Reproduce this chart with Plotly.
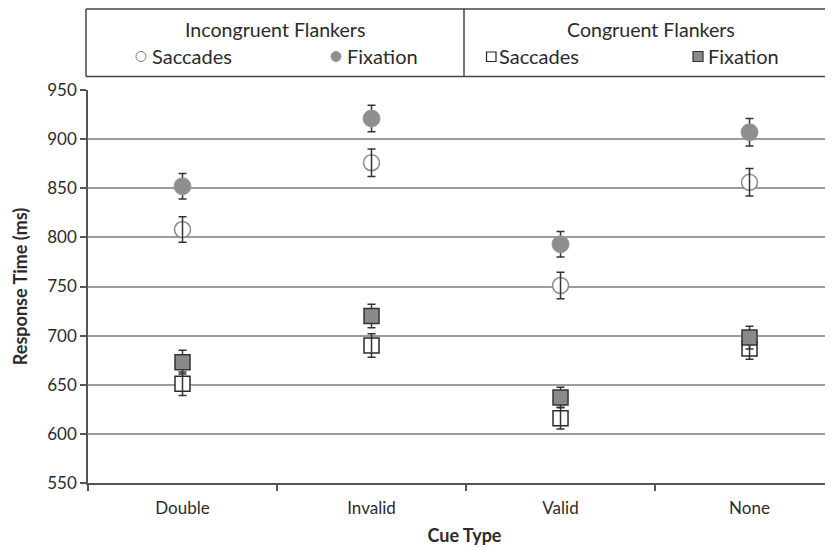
import plotly.graph_objects as go

# ---- data ----
cues = ["Double", "Invalid", "Valid", "None"]
inc_sac = [808, 876, 751, 856]
inc_sac_err = [13, 14, 13.5, 14]
inc_fix = [852, 921, 793, 907]
inc_fix_err = [13, 13.5, 13, 14]
con_sac = [651, 690, 616, 687]
con_sac_err = [12, 12, 11, 11]
con_fix = [673, 720, 637, 698]
con_fix_err = [12, 12, 10.5, 11.5]
y_ticks = [550, 600, 650, 700, 750, 800, 850, 900, 950]

FONT = "Lato"
TXT = "#2b2b2b"
ERR = "#333333"
W, H = 833, 547
OFF = 8  # page body margin
L, R, T, B = 80, 0, 82, 72

def px(x):
    return (x - OFF - L) / (W - L - R)

def py(y):
    return (H - B - (y - OFF)) / (H - T - B)

def err(e):
    return dict(type="data", array=e, visible=True, color=ERR, thickness=1.5, width=4)

fig = go.Figure()

# incongruent saccades (open circles): marker then error bars on top
fig.add_trace(go.Scatter(x=cues, y=inc_sac, mode="markers", showlegend=False,
                         marker=dict(symbol="circle", size=16, color="white",
                                     line=dict(color="#8a8a8a", width=1.5))))
fig.add_trace(go.Scatter(x=cues, y=inc_sac, mode="markers", showlegend=False,
                         marker=dict(size=1, opacity=0), error_y=err(inc_sac_err)))
# incongruent fixation (filled circles)
fig.add_trace(go.Scatter(x=cues, y=inc_fix, mode="markers", showlegend=False,
                         marker=dict(symbol="circle", size=17, color="#8e8e8e",
                                     line=dict(color="#9a9a9a", width=1)),
                         error_y=err(inc_fix_err)))
# congruent saccades (open squares)
fig.add_trace(go.Scatter(x=cues, y=con_sac, mode="markers", showlegend=False,
                         marker=dict(symbol="square", size=15, color="white",
                                     line=dict(color="#2a2a2a", width=1.5))))
fig.add_trace(go.Scatter(x=cues, y=con_sac, mode="markers", showlegend=False,
                         marker=dict(size=1, opacity=0), error_y=err(con_sac_err)))
# congruent fixation (filled squares)
fig.add_trace(go.Scatter(x=cues, y=con_fix, mode="markers", showlegend=False,
                         marker=dict(symbol="square", size=15, color="#8a8a8a",
                                     line=dict(color="#333333", width=1.5)),
                         error_y=err(con_fix_err)))

# ---- custom legend box ----
BOX = dict(color="#444", width=1.5)
shapes = [
    dict(type="line", xref="paper", yref="paper", x0=px(86), x1=px(850), y0=py(9), y1=py(9), line=BOX),
    dict(type="line", xref="paper", yref="paper", x0=px(86), x1=px(850), y0=py(76.5), y1=py(76.5), line=BOX),
    dict(type="line", xref="paper", yref="paper", x0=px(86), x1=px(86), y0=py(9), y1=py(76.5), line=BOX),
    dict(type="line", xref="paper", yref="paper", x0=px(464), x1=px(464), y0=py(9), y1=py(76.5), line=BOX),
    # legend glyphs
    dict(type="circle", xref="paper", yref="paper", x0=px(136), x1=px(146), y0=py(51.5), y1=py(61.5),
         fillcolor="white", line=dict(color="#777", width=1)),
    dict(type="circle", xref="paper", yref="paper", x0=px(331), x1=px(341), y0=py(51.5), y1=py(61.5),
         fillcolor="#8e8e8e", line=dict(color="#9a9a9a", width=1)),
    dict(type="rect", xref="paper", yref="paper", x0=px(486.5), x1=px(496), y0=py(52), y1=py(61.5),
         fillcolor="white", line=dict(color="#222", width=1.2)),
    dict(type="rect", xref="paper", yref="paper", x0=px(693), x1=px(703), y0=py(51.5), y1=py(61.5),
         fillcolor="#8a8a8a", line=dict(color="#333", width=1.2)),
]

def ann(text, x, y, anchor, size):
    return dict(text=text, x=px(x), y=py(y), xref="paper", yref="paper",
                showarrow=False, xanchor=anchor, yanchor="middle",
                font=dict(family=FONT, size=size, color=TXT))

annotations = [
    ann("Incongruent Flankers", 275, 30, "center", 19.6),
    ann("Congruent Flankers", 651, 30, "center", 19.6),
    ann("Saccades", 150, 56, "left", 20),
    ann("Fixation", 345, 56, "left", 20),
    ann("Saccades", 497, 56, "left", 20),
    ann("Fixation", 706, 56, "left", 20),
]

fig.update_layout(
    width=W, height=H,
    margin=dict(l=L, r=R, t=T, b=B, pad=0),
    paper_bgcolor="white", plot_bgcolor="white",
    font=dict(family=FONT, color=TXT),
    shapes=shapes, annotations=annotations,
    showlegend=False,
)
fig.update_xaxes(
    type="category", categoryorder="array", categoryarray=cues,
    range=[-0.5, 3.484], tickson="boundaries",
    ticks="outside", ticklen=6, tickwidth=1.5, tickcolor="#555",
    showline=True, linecolor="#555", linewidth=1.5, showgrid=False, zeroline=False,
    tickfont=dict(family=FONT, size=17, color=TXT), ticklabelstandoff=9,
    title=dict(text="<b>Cue Type</b>", font=dict(family=FONT, size=18, color=TXT), standoff=12),
)
fig.update_yaxes(
    range=[550, 950], tickvals=y_ticks,
    ticks="outside", ticklen=6, tickwidth=1.5, tickcolor="#555",
    showline=True, linecolor="#555", linewidth=1.5,
    showgrid=True, gridcolor="#9c9c9c", gridwidth=1.5, zeroline=False,
    tickfont=dict(family=FONT, size=17, color=TXT),
    title=dict(text="<b>Response Time (ms)</b>", font=dict(family=FONT, size=18, color=TXT), standoff=15),
)

fig.write_html("out.html")
